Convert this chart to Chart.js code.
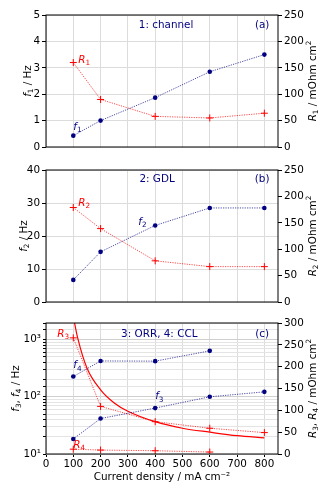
<!DOCTYPE html>
<html>
<head>
<meta charset="utf-8">
<script src="https://cdn.jsdelivr.net/npm/chart.js@4.4.1/dist/chart.umd.min.js"></script>
<style>
  body { margin: 0; background: #fff; }
  #wrap { position: relative; width: 330px; height: 495px; }
  canvas { position: absolute; left: 0; }
</style>
</head>
<body>
<div id="wrap">
  <canvas id="chartA" width="330" height="160" style="top:0"></canvas>
  <canvas id="chartB" width="330" height="160" style="top:155px"></canvas>
  <canvas id="chartC" width="330" height="185" style="top:310px"></canvas>
</div>
<script>
const NAVY = '#000080';
const RED = '#ff0000';
const GRID = '#dcdcdc';
const FONT = '"DejaVu Sans", sans-serif';
const FS = 10.4;

// data
const currents = [100, 200, 400, 600, 800];
const f1 = [0.43, 1.0, 1.87, 2.85, 3.5];
const R1 = [160, 90, 58, 55, 64];
const f2 = [6.7, 15.2, 23.2, 28.5, 28.5];
const R2 = [179, 139, 78, 67, 67];
const f3 = [18.3, 41.7, 63.5, 100, 122];
const f4 = [226, 423, 420, 635];        // 100..600 only
const R3 = [266, 109, 74, 59, 49];
const R4 = [11, 9, 7.5, 4.5];           // 100..600 only
const fitCurrents = [104, 116, 150, 200, 250, 300, 400, 500, 600, 700, 800];
const fitR = [302, 266, 197, 147, 117, 98, 74, 59, 50, 42, 37];
const xTicks = [0, 100, 200, 300, 400, 500, 600, 700, 800];

Chart.defaults.font.family = FONT;
Chart.defaults.font.size = FS;
Chart.defaults.color = '#000';
Chart.defaults.animation = false;

const pts = (xs, ys) => ys.map((v, i) => ({ x: xs[i], y: v }));
const it = t => ({ t, it: true });
const sub = t => ({ t, sub: true });
const sup = t => ({ t, sup: true });
const tx = t => ({ t });

function fSeries(ys) {
    return {
        data: pts(currents, ys), yAxisID: 'y',
        borderColor: 'rgba(0,0,128,0.7)', borderWidth: 1, borderDash: [1.2, 1.2],
        pointRadius: 2.3, pointBackgroundColor: NAVY, pointBorderColor: NAVY, pointBorderWidth: 0
    };
}
function rSeries(ys) {
    return {
        data: pts(currents, ys), yAxisID: 'y1',
        borderColor: 'rgba(255,0,0,0.7)', borderWidth: 1, borderDash: [1.2, 1.2],
        pointStyle: 'cross', pointRadius: 3.5, pointBorderColor: RED, pointBorderWidth: 1
    };
}

// draws italic / subscript mixed text
function rich(ctx, parts, x, y, opt) {
    const fontOf = p => (p.it ? 'italic ' : '') + ((p.sub || p.sup) ? FS * 0.7 : FS) + 'px ' + FONT;
    ctx.save();
    ctx.translate(x, y);
    ctx.rotate(opt.rot || 0);
    ctx.fillStyle = opt.color || '#000';
    ctx.textBaseline = 'middle';
    ctx.textAlign = 'left';
    let w = 0;
    parts.forEach(p => { ctx.font = fontOf(p); w += ctx.measureText(p.t).width; });
    let cx = opt.align === 'left' ? 0 : -w / 2;
    parts.forEach(p => {
        ctx.font = fontOf(p);
        const dy = p.sub ? 3 : (p.sup ? -4 : 0);
        ctx.fillText(p.t, cx, dy);
        cx += ctx.measureText(p.t).width;
    });
    ctx.restore();
}

const decor = {
    id: 'decor',
    afterDatasetsDraw(chart, args, o) {
        const ctx = chart.ctx, a = chart.chartArea;
        const xs = chart.scales.x, ys = chart.scales[o.textAxis];
        (o.texts || []).forEach(t => {
            rich(ctx, t.parts, xs.getPixelForValue(t.x), ys.getPixelForValue(t.y), { color: t.color, align: t.align });
        });
        ctx.save();
        ctx.strokeStyle = '#000';
        ctx.lineWidth = 1;
        ctx.strokeRect(a.left, a.top, a.right - a.left, a.bottom - a.top);
        ctx.restore();
        const mid = (a.top + a.bottom) / 2;
        rich(ctx, o.leftTitle, o.leftX, mid, { rot: -Math.PI / 2 });
        rich(ctx, o.rightTitle, 313, mid, { rot: -Math.PI / 2 });
    }
};

function setTicks(list) {
    return s => { s.ticks = list.map(v => ({ value: v })); };
}
function range(a, b, step) { const r = []; for (let v = a; v <= b + 1e-9; v += step) r.push(v); return r; }

function linAxis(pos, min, max, step, grid) {
    return {
        type: 'linear', position: pos, min, max,
        afterBuildTicks: setTicks(range(min, max, step)),
        afterFit: s => { s.width = pos === 'left' ? 46 : 52; },
        ticks: { padding: 2 },
        border: { display: false },
        grid: { drawOnChartArea: grid, color: GRID, tickLength: 4, tickColor: '#000' }
    };
}

function xAxis(labels) {
    return {
        type: 'linear', min: 0, max: 850,
        afterBuildTicks: setTicks(xTicks),
        afterFit: s => { s.height = labels ? 41 : 0; },
        ticks: { display: labels, autoSkip: false, padding: 1, maxRotation: 0 },
        border: { display: false },
        grid: { color: GRID, drawTicks: labels, tickLength: 3, tickColor: '#000' },
        title: { display: labels, text: 'Current density / mA cm\u207B\u00B2', padding: { top: 0, bottom: 11 } }
    };
}

function panel(id, datasets, scales, pad, deco) {
    new Chart(document.getElementById(id), {
        type: 'line',
        data: { datasets },
        options: {
            responsive: false, devicePixelRatio: 1,
            layout: { padding: pad },
            plugins: { legend: { display: false }, tooltip: { enabled: false }, decor: deco },
            scales
        },
        plugins: [decor]
    });
}

// (a) channel
panel('chartA', [fSeries(f1), rSeries(R1)], {
    x: xAxis(false),
    y: linAxis('left', 0, 5, 1, true),
    y1: linAxis('right', 0, 250, 50, false)
}, { top: 15, bottom: 13, left: 0, right: 0 }, {
    textAxis: 'y', leftX: 28,
    leftTitle: [it('f'), sub('1'), tx(' / Hz')],
    rightTitle: [it('R'), sub('1'), tx(' / mOhm cm'), sup('2')],
    texts: [
        { parts: [tx('1: channel')], x: 440, y: 4.62, color: NAVY },
        { parts: [tx('(a)')], x: 792, y: 4.62, color: NAVY },
        { parts: [it('R'), sub('1')], x: 118, y: 3.3, color: RED, align: 'left' },
        { parts: [it('f'), sub('1')], x: 100, y: 0.76, color: NAVY, align: 'left' }
    ]
});

// (b) GDL
panel('chartB', [fSeries(f2), rSeries(R2)], {
    x: xAxis(false),
    y: linAxis('left', 0, 40, 10, true),
    y1: linAxis('right', 0, 250, 50, false)
}, { top: 15, bottom: 13, left: 0, right: 0 }, {
    textAxis: 'y', leftX: 24,
    leftTitle: [it('f'), sub('2'), tx(' / Hz')],
    rightTitle: [it('R'), sub('2'), tx(' / mOhm cm'), sup('2')],
    texts: [
        { parts: [tx('2: GDL')], x: 407, y: 37.3, color: NAVY },
        { parts: [tx('(b)')], x: 792, y: 37.3, color: NAVY },
        { parts: [it('R'), sub('2')], x: 118, y: 30, color: RED, align: 'left' },
        { parts: [it('f'), sub('2')], x: 338, y: 24.2, color: NAVY, align: 'left' }
    ]
});

// (c) ORR + CCL, log frequency axis
const supDigits = { 1: '\u00B9', 2: '\u00B2', 3: '\u00B3' };
const isDecade = v => Math.abs(Math.log10(v) - Math.round(Math.log10(v))) < 1e-6;
const f4Set = fSeries([]); f4Set.data = pts(currents, f4);
const R4Set = rSeries([]); R4Set.data = pts(currents, R4);
const fitSet = {
    data: pts(fitCurrents, fitR), yAxisID: 'y1',
    borderColor: RED, borderWidth: 1.2, pointRadius: 0, cubicInterpolationMode: 'monotone'
};
panel('chartC', [fSeries(f3), f4Set, rSeries(R3), R4Set, fitSet], {
    x: xAxis(true),
    y: {
        type: 'logarithmic', position: 'left', min: 10, max: 1950,
        afterFit: s => { s.width = 46; },
        ticks: {
            autoSkip: false, padding: 2,
            callback: v => isDecade(v) ? '10' + supDigits[Math.round(Math.log10(v))] : ''
        },
        border: { display: false },
        grid: {
            color: c => (c.tick && isDecade(c.tick.value)) ? '#cfcfcf' : '#e4e4e4',
            tickLength: 3, tickColor: '#000'
        }
    },
    y1: linAxis('right', 0, 300, 50, false)
}, { top: 13, bottom: 0, left: 0, right: 0 }, {
    textAxis: 'y1', leftX: 16,
    leftTitle: [it('f'), sub('3'), tx(', '), it('f'), sub('4'), tx(' / Hz')],
    rightTitle: [it('R'), sub('3'), tx(', '), it('R'), sub('4'), tx(' / mOhm cm'), sup('2')],
    texts: [
        { parts: [tx('3: ORR, 4: CCL')], x: 415, y: 275, color: NAVY },
        { parts: [tx('(c)')], x: 792, y: 275, color: NAVY },
        { parts: [it('R'), sub('3')], x: 41, y: 275, color: RED, align: 'left' },
        { parts: [it('f'), sub('4')], x: 100, y: 202, color: NAVY, align: 'left' },
        { parts: [it('f'), sub('3')], x: 400, y: 131, color: NAVY, align: 'left' },
        { parts: [it('R'), sub('4')], x: 100, y: 21, color: RED, align: 'left' }
    ]
});
</script>
</body>
</html>
